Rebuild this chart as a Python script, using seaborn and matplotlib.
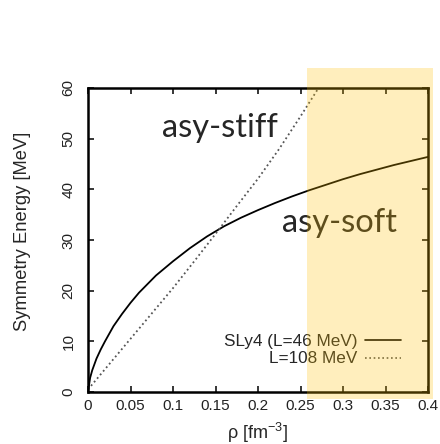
import numpy as np
import pandas as pd
import seaborn as sns
import matplotlib.pyplot as plt
from matplotlib.patches import Rectangle

# density [fm^-3] and symmetry energy [MeV]
rho_sly4 = [0, 0.0025, 0.005, 0.01, 0.015, 0.02, 0.03, 0.04, 0.05, 0.06, 0.08,
            0.1, 0.12, 0.14, 0.16, 0.18, 0.2, 0.22, 0.24, 0.26, 0.28, 0.3,
            0.32, 0.34, 0.36, 0.38, 0.4]
esym_sly4 = [0, 2.8, 4.3, 6.6, 8.4, 10.0, 13.0, 15.4, 17.6, 19.6, 23.0,
             25.8, 28.4, 30.7, 32.7, 34.4, 35.9, 37.3, 38.6, 39.8, 40.9, 42.0,
             43.0, 43.9, 44.8, 45.6, 46.4]

rho_stiff = [0, 0.025, 0.05, 0.075, 0.1, 0.125, 0.15, 0.175, 0.2, 0.225,
             0.25, 0.275, 0.3]
esym_stiff = [0.5, 5.5, 10.5, 15.5, 20.5, 25.8, 31.2, 36.7, 42.1, 48.0,
              54.4, 61.0, 68.0]

xticks = [0, 0.05, 0.1, 0.15, 0.2, 0.25, 0.3, 0.35, 0.4]
xticklabels = ["0", "0.05", "0.1", "0.15", "0.2", "0.25", "0.3", "0.35", "0.4"]
yticks = [0, 10, 20, 30, 40, 50, 60]

sns.set_style("ticks")
plt.rcParams['font.family'] = ['Liberation Sans', 'DejaVu Sans']
plt.rcParams['mathtext.default'] = 'regular'

fig = plt.figure(figsize=(4.4, 4.44), dpi=100)
ax = fig.add_axes([88 / 440, 52 / 444, 340 / 440, 304 / 444])

df_soft = pd.DataFrame({"rho": rho_sly4, "E": esym_sly4})
df_stiff = pd.DataFrame({"rho": rho_stiff, "E": esym_stiff})
dots = (0, (1, 1.6))
sns.lineplot(data=df_soft, x="rho", y="E", ax=ax, color="black", lw=1.3)
sns.lineplot(data=df_stiff, x="rho", y="E", ax=ax, color="#555555", lw=1.3,
             linestyle=dots)

ax.set_xlim(0, 0.4)
ax.set_ylim(0, 60)
ax.set_xticks(xticks)
ax.set_xticklabels(xticklabels, fontsize=11, color="#222222")
ax.set_yticks(yticks)
ax.set_yticklabels([str(v) for v in yticks], fontsize=11, color="#222222",
                   rotation=90, va="center")
ax.tick_params(direction="in", top=True, right=True, length=4, width=1.3)
ax.tick_params(axis="x", pad=5)
ax.tick_params(axis="y", pad=9)
for s in ax.spines.values():
    s.set_visible(True)
    s.set_linewidth(1.8)
    s.set_color("black")

ax.set_xlabel(r"ρ [fm$^{-3}$]", fontsize=13)
ax.set_ylabel("Symmetry Energy [MeV]", fontsize=13.2)
ax.xaxis.set_label_coords(0.498, -0.095)
ax.yaxis.set_label_coords(-0.168, 0.53)

# legend drawn gnuplot-style
ax.text(0.317, 9.1, "SLy4 (L=46 MeV)", ha="right", va="baseline", fontsize=12.3)
ax.text(0.317, 5.7, "L=108 MeV", ha="right", va="baseline", fontsize=12.3)
ax.plot([0.326, 0.368], [10.3, 10.3], color="black", lw=1.2)
ax.plot([0.326, 0.368], [6.7, 6.7], color="#555555", lw=1.2, linestyle=dots)

ax.text(0.087, 50.3, "asy-stiff", fontsize=23.5, family=["Lato", "DejaVu Sans"],
        ha="left", va="baseline")
ax.text(0.228, 31.6, "asy-soft", fontsize=23.5, family=["Lato", "DejaVu Sans"],
        ha="left", va="baseline")

# highlighted high-density region
fig.patches.append(Rectangle((307 / 440, 45 / 444), 126 / 440, 331 / 444,
                             transform=fig.transFigure, facecolor="#FFC000",
                             alpha=0.26, edgecolor="none", zorder=10))

fig.savefig("out.png", dpi=100)
